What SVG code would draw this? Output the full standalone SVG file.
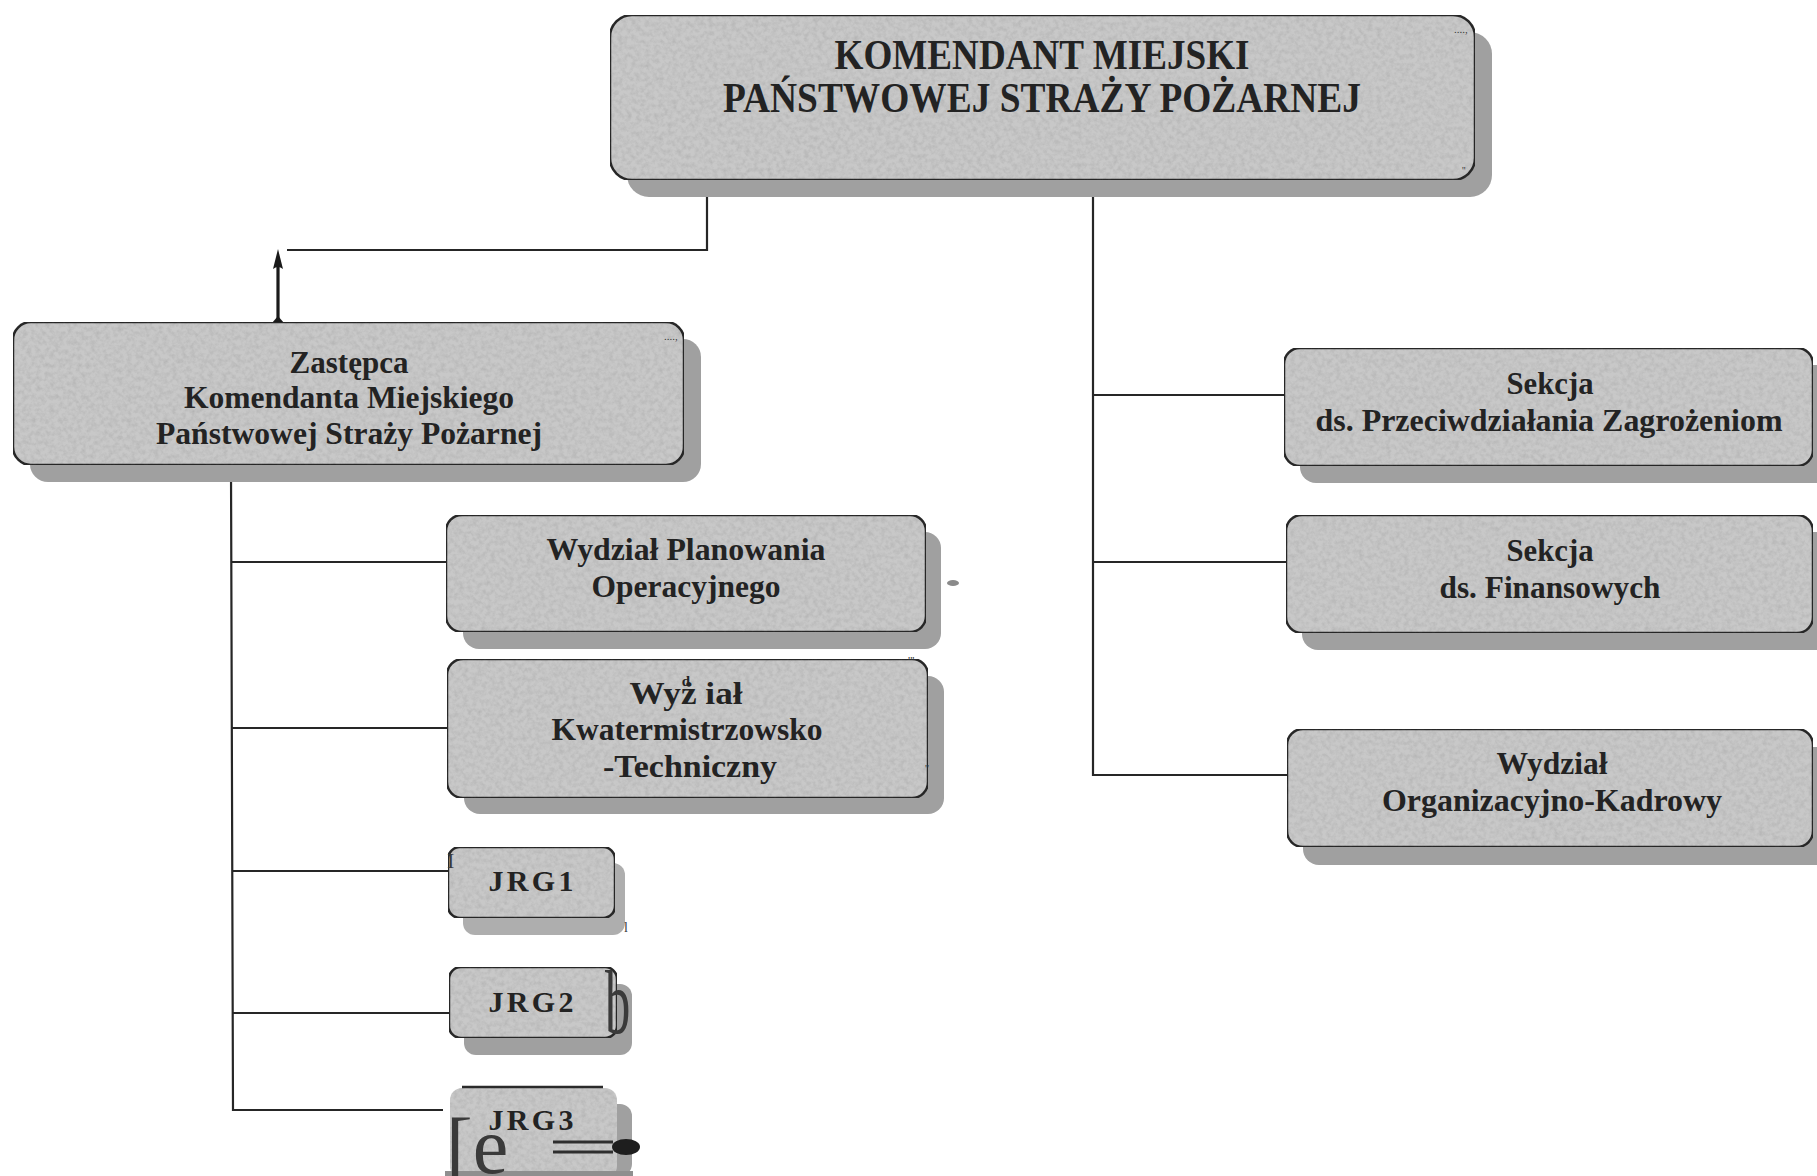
<svg xmlns="http://www.w3.org/2000/svg" width="1817" height="1176" viewBox="0 0 1817 1176">
<style>
.box{fill:#c8c8c8;stroke:#2a2a2a;stroke-width:2.5}
.fill{fill:#c8c8c8}
.sh{fill:#a0a0a0}
.t{font-family:"Liberation Serif","Times New Roman",serif;font-weight:bold;fill:#232323;text-anchor:middle}
.c{fill:none;stroke:#262626;stroke-width:2.2}
.art{font-family:"Liberation Serif","Times New Roman",serif;fill:#3a3a3a}
</style>
<defs>
<filter id="grain" x="0" y="0" width="1" height="1">
<feTurbulence type="fractalNoise" baseFrequency="0.22" numOctaves="3" seed="7" result="t"/>
<feColorMatrix in="t" type="matrix" values="0 0 0 0 0  0 0 0 0 0  0 0 0 0 0  0.35 0 0 0 -0.13" result="a"/>
<feComposite in="a" in2="SourceGraphic" operator="in" result="b"/>
<feMerge><feMergeNode in="SourceGraphic"/><feMergeNode in="b"/></feMerge>
</filter>
</defs>
<rect width="1817" height="1176" fill="#ffffff"/>

<g id="connectors">
<path class="c" d="M707,180 V250 H287"/>
<path d="M278,322 V266" fill="none" stroke="#1a1a1a" stroke-width="3.2"/>
<path d="M278,249 L283,269 Q278,265 273,269 Z" fill="#1a1a1a"/>
<path d="M272,323 L278,316 L284,323 Z" fill="#1a1a1a"/>
<path class="c" d="M1093,180 V775 H1287"/>
<path class="c" d="M1093,395 H1284"/>
<path class="c" d="M1093,562 H1286"/>
<path class="c" d="M231,467 L233,1110 H443"/>
<path class="c" d="M231,562 H446"/>
<path class="c" d="M232,728 H447"/>
<path class="c" d="M232,871 H448"/>
<path class="c" d="M233,1013 H449"/>
</g>

<g id="komendant">
<rect class="sh" x="627" y="32" width="865" height="165" rx="22"/>
<rect class="box" x="610" y="15" width="865" height="165" rx="22" filter="url(#grain)"/>
<text class="t" x="1042" y="69" font-size="42" textLength="415" lengthAdjust="spacingAndGlyphs">KOMENDANT MIEJSKI</text>
<text class="t" x="1042" y="112" font-size="42" textLength="638" lengthAdjust="spacingAndGlyphs">PAŃSTWOWEJ STRAŻY POŻARNEJ</text>
<text class="art" x="1454" y="33" font-size="11">....,</text>
<text class="art" x="1462" y="174" font-size="10">''</text>
</g>

<g id="zastepca">
<rect class="sh" x="30" y="339" width="671" height="143" rx="18"/>
<rect class="box" x="13" y="322" width="671" height="143" rx="18" filter="url(#grain)"/>
<text class="t" x="349" y="373" font-size="31" textLength="119" lengthAdjust="spacingAndGlyphs">Zastępca</text>
<text class="t" x="349" y="408" font-size="31" textLength="330" lengthAdjust="spacingAndGlyphs">Komendanta Miejskiego</text>
<text class="t" x="349" y="444" font-size="31" textLength="386" lengthAdjust="spacingAndGlyphs">Państwowej Straży Pożarnej</text>
<text class="art" x="664" y="340" font-size="11">....,</text>
</g>

<g id="wydzial-planowania">
<rect class="sh" x="463" y="532" width="478" height="117" rx="16"/>
<rect class="box" x="446" y="515" width="480" height="117" rx="16" filter="url(#grain)"/>
<text class="t" x="686" y="560" font-size="31" textLength="279" lengthAdjust="spacingAndGlyphs">Wydział Planowania</text>
<text class="t" x="686" y="597" font-size="31" textLength="189" lengthAdjust="spacingAndGlyphs">Operacyjnego</text>
<ellipse cx="953" cy="583" rx="6" ry="3" fill="#8a8a8a"/>
</g>

<g id="wydzial-kwatermistrzowsko">
<rect class="sh" x="464" y="676" width="480" height="138" rx="16"/>
<rect class="box" x="447" y="659" width="481" height="139" rx="16" filter="url(#grain)"/>
<text class="t" x="686" y="704" font-size="31" textLength="113" lengthAdjust="spacingAndGlyphs">Wyż iał</text>
<text class="t" x="686" y="686" font-size="15">d</text>
<text class="t" x="687" y="740" font-size="31" textLength="271" lengthAdjust="spacingAndGlyphs">Kwatermistrzowsko</text>
<text class="t" x="690" y="777" font-size="31" textLength="174" lengthAdjust="spacingAndGlyphs">-Techniczny</text>
<text class="art" x="908" y="665" font-size="12">'''</text>
<text class="art" x="925" y="772" font-size="11">''</text>
</g>

<g id="jrg1">
<rect class="sh" x="463" y="863" width="162" height="72" rx="12" fill-opacity="0.85"/>
<rect class="box" x="448" y="847" width="167" height="71" rx="12" filter="url(#grain)"/>
<text class="t" x="531" y="891" font-size="30" textLength="85" lengthAdjust="spacing">JRG1</text>
<text class="art" x="447" y="868" font-size="22" fill="#444">I</text>
<text class="art" x="624" y="932" font-size="14" fill="#777">l</text>
</g>

<g id="jrg2">
<rect class="sh" x="464" y="984" width="168" height="71" rx="12"/>
<rect class="box" x="449" y="967" width="168" height="71" rx="12" filter="url(#grain)"/>
<text class="t" x="531" y="1012" font-size="30" textLength="85" lengthAdjust="spacing">JRG2</text>
<text class="art" transform="translate(605,1033) scale(0.55,1)" x="0" y="0" font-size="92" fill="#5a5a5a">b</text>
</g>

<g id="jrg3">
<rect class="sh" x="462" y="1104" width="170" height="72" rx="12"/>
<rect class="fill" x="450" y="1088" width="167" height="90" rx="12" filter="url(#grain)"/>
<line x1="462" y1="1087" x2="603" y2="1087" stroke="#2a2a2a" stroke-width="2.5"/>
<rect x="445" y="1171" width="188" height="5" fill="#8f8f8f"/>
<text class="t" x="531" y="1130" font-size="30" textLength="85" lengthAdjust="spacing">JRG3</text>
<text class="art" x="446" y="1173" font-size="80" fill="#2e2e2e">[e</text>
<line x1="553" y1="1142" x2="613" y2="1142" stroke="#2e2e2e" stroke-width="3"/>
<line x1="553" y1="1152" x2="613" y2="1152" stroke="#2e2e2e" stroke-width="3"/>
<ellipse cx="626" cy="1147" rx="14" ry="8" fill="#1e1e1e"/>
</g>

<g id="sekcja-zagrozenia">
<rect class="sh" x="1300" y="365" width="540" height="118" rx="16"/>
<rect class="box" x="1284" y="348" width="529" height="118" rx="16" filter="url(#grain)"/>
<text class="t" x="1550" y="394" font-size="31" textLength="87" lengthAdjust="spacingAndGlyphs">Sekcja</text>
<text class="t" x="1549" y="431" font-size="31" textLength="467" lengthAdjust="spacingAndGlyphs">ds. Przeciwdziałania Zagrożeniom</text>
</g>

<g id="sekcja-finansowa">
<rect class="sh" x="1302" y="532" width="540" height="118" rx="16"/>
<rect class="box" x="1286" y="515" width="527" height="118" rx="16" filter="url(#grain)"/>
<text class="t" x="1550" y="561" font-size="31" textLength="87" lengthAdjust="spacingAndGlyphs">Sekcja</text>
<text class="t" x="1550" y="598" font-size="31" textLength="221" lengthAdjust="spacingAndGlyphs">ds. Finansowych</text>
</g>

<g id="wydzial-organizacyjny">
<rect class="sh" x="1303" y="747" width="540" height="118" rx="16"/>
<rect class="box" x="1287" y="729" width="526" height="118" rx="16" filter="url(#grain)"/>
<text class="t" x="1552" y="774" font-size="31" textLength="111" lengthAdjust="spacingAndGlyphs">Wydział</text>
<text class="t" x="1552" y="811" font-size="31" textLength="340" lengthAdjust="spacingAndGlyphs">Organizacyjno-Kadrowy</text>
</g>
</svg>
